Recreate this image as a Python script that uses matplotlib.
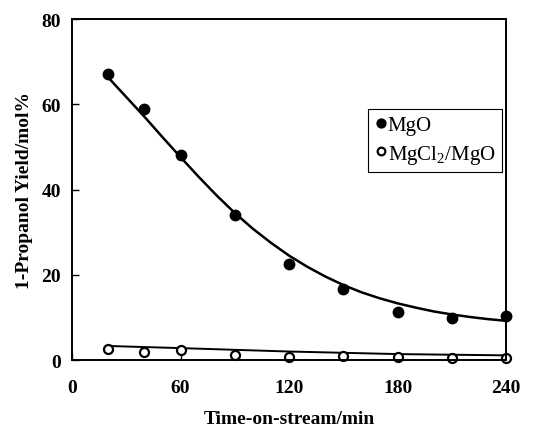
import matplotlib
matplotlib.use('Agg')
import matplotlib.pyplot as plt

# measured points
time_min = [20, 40, 60, 90, 120, 150, 180, 210, 240]
mgo_yield = [67.1, 59.0, 48.2, 34.0, 22.6, 16.6, 11.2, 9.9, 10.4]
mgcl2_yield = [2.7, 1.8, 2.4, 1.2, 0.8, 0.9, 0.8, 0.55, 0.55]

# trend lines
mgo_fit_t = [20, 30, 40, 50, 60, 70, 80, 90, 100, 110, 120, 130, 140, 150,
             160, 170, 180, 190, 200, 210, 220, 230, 240]
mgo_fit_y = [66.3, 61.7, 57.1, 52.3, 47.6, 43.0, 38.6, 34.5, 30.8, 27.5, 24.5,
             21.9, 19.6, 17.6, 15.9, 14.5, 13.3, 12.3, 11.4, 10.7, 10.1, 9.6, 9.2]
mgcl2_fit_t = [20, 60, 120, 180, 240]
mgcl2_fit_y = [3.3, 2.8, 2.0, 1.4, 1.1]

x_ticks = [0, 60, 120, 180, 240]
y_ticks = [0, 20, 40, 60, 80]

plt.rcParams['font.family'] = ['Liberation Serif', 'DejaVu Serif']
plt.rcParams['mathtext.fontset'] = 'custom'
plt.rcParams['mathtext.rm'] = 'Liberation Serif'

fig = plt.figure(figsize=(5.4, 4.35), dpi=100)
ax = fig.add_axes([0.1333, 0.170, 0.804, 0.784])

ax.plot(mgo_fit_t, mgo_fit_y, color='black', lw=1.8)
ax.plot(mgcl2_fit_t, mgcl2_fit_y, color='black', lw=1.4)
ax.plot(time_min, mgo_yield, 'o', color='black', ms=7.5, label='MgO', clip_on=False)
ax.plot(time_min, mgcl2_yield, 'o', mfc='white', mec='black', mew=1.6, ms=6.5,
        label='MgCl$_2$/MgO', clip_on=False)

ax.set_xlim(0, 240)
ax.set_ylim(0, 80)
ax.set_xticks(x_ticks)
ax.set_yticks(y_ticks)
ax.tick_params(direction='in', length=5, width=1, labelsize=14, pad=8)
ax.tick_params(axis='x', pad=14)
for lab in ax.get_xticklabels() + ax.get_yticklabels():
    lab.set_fontweight('bold')
for sp in ax.spines.values():
    sp.set_linewidth(1.4)

ax.set_xlabel('Time-on-stream/min', fontsize=14, fontweight='bold', labelpad=10)
ax.set_ylabel('1-Propanol Yield/mol%', fontsize=14, fontweight='bold', labelpad=6)

leg = ax.legend(loc='upper left', bbox_to_anchor=(0.682, 0.735), fontsize=15,
                handletextpad=0.05, handlelength=0.6, borderpad=0.3,
                labelspacing=0.35, borderaxespad=0, fancybox=False, framealpha=1,
                markerscale=0.85)
leg.get_frame().set_edgecolor('black')
leg.get_frame().set_linewidth(0.8)

fig.savefig('out.png', dpi=100)
